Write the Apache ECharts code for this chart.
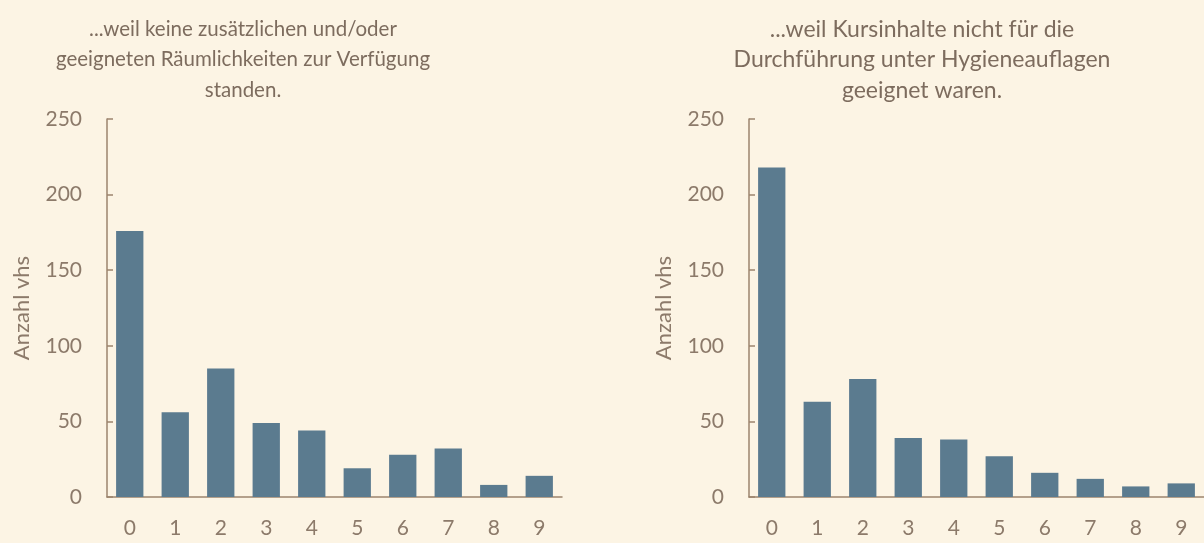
<!DOCTYPE html>
<html>
<head>
<meta charset="utf-8">
<script src="https://cdn.jsdelivr.net/npm/echarts@6/dist/echarts.min.js"></script>
<style>
  html, body { margin: 0; padding: 0; background: #fcf4e4; }
  #chart { width: 1204px; height: 543px; }
</style>
</head>
<body>
<div id="chart"></div>
<script>
    // Kategorien und Werte
    let kategorien = ["0", "1", "2", "3", "4", "5", "6", "7", "8", "9"];
    let raeume = [176, 56, 85, 49, 44, 19, 28, 32, 8, 14];
    let hygiene = [218, 63, 78, 39, 38, 27, 16, 12, 7, 9];
    let titelLinks = "...weil keine zusätzlichen und/oder\ngeeigneten Räumlichkeiten zur Verfügung\nstanden.";
    let titelRechts = "...weil Kursinhalte nicht für die\nDurchführung unter Hygieneauflagen\ngeeignet waren.";
    let yName = "Anzahl vhs";

    let schrift = "Lato, 'Open Sans', sans-serif";
    let achsenFarbe = "#9c846e";
    let textFarbe = "#8c7a6a";
    let balkenFarbe = "#5b7b8f";

    function xAchse(idx) {
        return {
            type: "category",
            gridIndex: idx,
            data: kategorien,
            axisLine: { lineStyle: { color: achsenFarbe, width: 1.5 } },
            axisTick: { show: false },
            axisLabel: { color: textFarbe, fontSize: 21, fontFamily: schrift, margin: 21 }
        };
    }
    function yAchse(idx) {
        return {
            type: "value",
            gridIndex: idx,
            min: 0,
            max: 250,
            interval: 50,
            name: yName,
            nameLocation: "middle",
            nameGap: 74,
            nameTextStyle: { color: textFarbe, fontSize: 22, fontFamily: schrift },
            axisLine: { show: true, lineStyle: { color: achsenFarbe, width: 1.5 } },
            axisTick: { show: true, inside: true, length: 6, lineStyle: { color: achsenFarbe, width: 1.5 } },
            splitLine: { show: false },
            axisLabel: { color: textFarbe, fontSize: 21, fontFamily: schrift, margin: 25 }
        };
    }
    function serie(idx, werte) {
        return {
            type: "bar",
            xAxisIndex: idx,
            yAxisIndex: idx,
            data: werte,
            barCategoryGap: "40%",
            itemStyle: { color: balkenFarbe },
            silent: true
        };
    }

    let myChart = echarts.init(document.getElementById("chart"));
    let titelStil = { color: "#7d6c5e", fontSize: 20.5, fontWeight: "normal", fontFamily: schrift, lineHeight: 30.5, align: "center" };
    // rechter Titel läuft im Original breiter
    let titelStilRechts = Object.assign({}, titelStil, { fontSize: 23 });
    let option = {
        backgroundColor: "#fcf4e4",
        animation: false,
        title: [{
            text: titelLinks,
            left: 238,
            top: 9,
            textAlign: "center",
            textStyle: titelStil
        }, {
            text: titelRechts,
            left: 917,
            top: 9,
            textAlign: "center",
            textStyle: titelStilRechts
        }],
        grid: [
            { left: 107, top: 119, width: 455, height: 378 },
            { left: 749, top: 119, width: 455, height: 378 }
        ],
        xAxis: [xAchse(0), xAchse(1)],
        yAxis: [yAchse(0), yAchse(1)],
        series: [serie(0, raeume), serie(1, hygiene)]
    };
    myChart.setOption(option);
</script>
</body>
</html>
